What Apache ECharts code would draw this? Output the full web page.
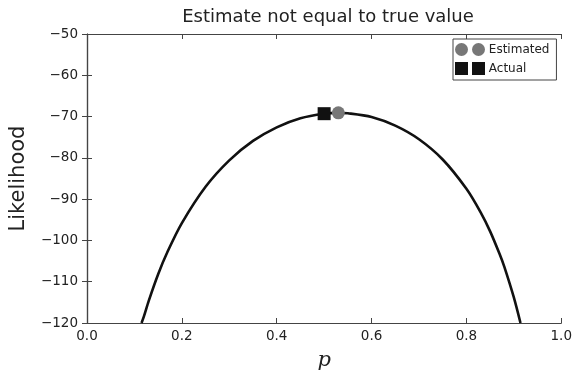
<!DOCTYPE html>
<html>
<head>
<meta charset="utf-8">
<script src="https://cdn.jsdelivr.net/npm/echarts@6/dist/echarts.min.js"></script>
<style>
  html, body { margin: 0; padding: 0; background: #fff; }
  #chart { width: 575px; height: 376px; }
</style>
</head>
<body>
<div id="chart"></div>
<script>
// likelihood curve
const curveP = [0.115, 0.12, 0.13, 0.15, 0.17, 0.2, 0.25, 0.3, 0.35, 0.4, 0.45, 0.5, 0.53, 0.55, 0.6, 0.65, 0.7, 0.75, 0.8, 0.83, 0.85, 0.87, 0.88, 0.9, 0.914]
const curveL = [-120, -118.4, -114.7, -108.2, -102.7, -95.8, -87.0, -80.6, -75.9, -72.6, -70.4, -69.3, -69.1, -69.2, -70.1, -72.2, -75.5, -80.4, -87.5, -93.2, -97.8, -103.3, -106.4, -113.8, -120]
const estimated = [0.53, -69.1]
const actual = [0.5, -69.3]
const xTicks = [0, 0.2, 0.4, 0.6, 0.8, 1.0]
const yTicks = [-120, -110, -100, -90, -80, -70, -60, -50]

const chart = echarts.init(document.getElementById('chart'), null, { renderer: 'canvas' })
const font = 'DejaVu Sans'
const axisCol = '#444'
const minus = v => String(v).replace('-', '\u2212')

const xBase = { type: 'value', min: 0, max: 1, interval: 0.2, axisLine: { lineStyle: { color: axisCol, width: 1.2 } }, axisTick: { inside: true, length: 5, lineStyle: { color: axisCol } }, splitLine: { show: false } }
const yBase = { type: 'value', min: -120, max: -50, interval: 10, axisLine: { show: true, lineStyle: { color: axisCol, width: 1.2 } }, axisTick: { show: true, inside: true, length: 5, lineStyle: { color: axisCol } }, splitLine: { show: false } }

chart.setOption({
  animation: false,
  title: { text: 'Estimate not equal to true value', left: 323, top: 3, textAlign: 'center', textStyle: { fontFamily: font, fontSize: 18, fontWeight: 'normal', color: '#222' } },
  grid: { left: 84, right: 11, top: 34, bottom: 44 },
  legend: {
    left: 453, top: 39, orient: 'vertical', itemGap: 6, itemWidth: 13, itemHeight: 13,
    borderColor: '#444', borderWidth: 1, padding: [4, 7, 5, 2],
    data: [{ name: 'Estimated', icon: 'circle' }, { name: 'Actual', icon: 'rect' }],
    itemStyle: { borderWidth: 0 },
    formatter: n => (n === 'Estimated' ? '{c|}' : '{s|}') + ' ' + n,
    textStyle: { fontFamily: font, fontSize: 12, color: '#222', padding: [0, 0, 0, -1],
      rich: { c: { width: 13, height: 13, borderRadius: 6.5, backgroundColor: '#777' }, s: { width: 13, height: 13, backgroundColor: '#111' } } }
  },
  xAxis: [
    Object.assign({}, xBase, { position: 'bottom', name: 'p', nameLocation: 'middle', nameGap: 27,
      nameTextStyle: { fontFamily: 'DejaVu Serif', fontStyle: 'italic', fontSize: 21, color: '#222' },
      axisLabel: { fontFamily: font, fontSize: 13.5, color: '#222', margin: 6, formatter: v => xTicks.includes(v) ? v.toFixed(1) : '' } }),
    Object.assign({}, xBase, { position: 'top', axisLabel: { show: false } })
  ],
  yAxis: [
    Object.assign({}, yBase, { position: 'left', name: 'Likelihood', nameLocation: 'middle', nameGap: 58,
      nameTextStyle: { fontFamily: font, fontSize: 21, color: '#222' },
      axisLabel: { fontFamily: font, fontSize: 13.5, color: '#222', margin: 9, formatter: v => yTicks.includes(v) ? minus(v) : '' } }),
    Object.assign({}, yBase, { position: 'right', axisLabel: { show: false } })
  ],
  series: [
    { name: 'curve', type: 'line', data: curveP.map((p, i) => [p, curveL[i]]), smooth: 0.3, showSymbol: false,
      lineStyle: { color: '#111', width: 2.6 }, clip: true, z: 2 },
    { name: 'Actual', type: 'scatter', data: [actual], symbol: 'rect', symbolSize: 13,
      itemStyle: { color: '#111', opacity: 1 }, z: 3 },
    { name: 'Estimated', type: 'scatter', data: [estimated], symbol: 'circle', symbolSize: 13,
      itemStyle: { color: '#777', opacity: 1 }, z: 4 }
  ]
})
</script>
</body>
</html>
